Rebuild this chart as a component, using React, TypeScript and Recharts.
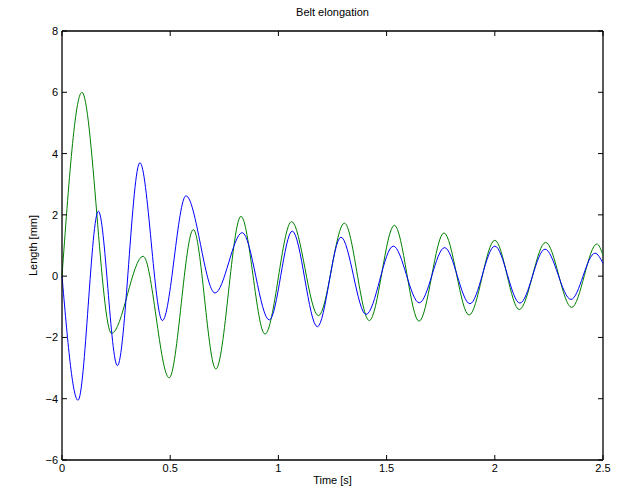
import { LineChart, Line, XAxis, YAxis, ReferenceLine, Label } from "recharts";

const timeGreen = [0, 0.092, 0.229, 0.375, 0.495, 0.607, 0.711, 0.827, 0.938, 1.061, 1.185, 1.305, 1.42, 1.536, 1.65, 1.765, 1.881, 2.0, 2.113, 2.235, 2.355, 2.472, 2.5];
const lengthGreen = [0, 6.0, -1.87, 0.65, -3.32, 1.52, -3.03, 1.95, -1.89, 1.78, -1.29, 1.73, -1.45, 1.66, -1.47, 1.41, -1.27, 1.17, -1.09, 1.1, -1.02, 1.05, 0.68];

const timeBlue = [0, 0.074, 0.168, 0.256, 0.36, 0.464, 0.573, 0.707, 0.833, 0.958, 1.064, 1.18, 1.289, 1.405, 1.531, 1.651, 1.768, 1.885, 2.0, 2.116, 2.232, 2.352, 2.463, 2.5];
const lengthBlue = [0, -4.05, 2.12, -2.92, 3.7, -1.45, 2.62, -0.55, 1.42, -1.43, 1.47, -1.65, 1.27, -1.25, 0.98, -0.87, 0.93, -0.9, 0.98, -0.88, 0.88, -0.76, 0.75, 0.42];

const xTicks = [0, 0.5, 1, 1.5, 2, 2.5];
const yTicks = [-6, -4, -2, 0, 2, 4, 6, 8];

const greenData = timeGreen.map((t, i) => ({ t, v: lengthGreen[i] }));
const blueData = timeBlue.map((t, i) => ({ t, v: lengthBlue[i] }));

// plot box in page pixels
const W = 624;
const H = 494;
const PLOT_LEFT = 62;
const PLOT_RIGHT = 603;
const PLOT_TOP = 31;
const PLOT_BOTTOM = 460;
const FONT = "'Liberation Sans', Arial, Helvetica, sans-serif";

const fmt = (v: number) => (v < 0 ? "\u2212" + Math.abs(v) : String(v));

function XTick({ x, payload }: any) {
  return (
    <g>
      <line x1={x} x2={x} y1={PLOT_BOTTOM} y2={PLOT_BOTTOM - 5} stroke="#000" />
      <line x1={x} x2={x} y1={PLOT_TOP} y2={PLOT_TOP + 5} stroke="#000" />
      <text x={x} y={PLOT_BOTTOM + 12} textAnchor="middle" fontSize={11} fontFamily={FONT} fill="#000">
        {fmt(payload.value)}
      </text>
    </g>
  );
}

function YTick({ y, payload }: any) {
  return (
    <g>
      <line x1={PLOT_LEFT} x2={PLOT_LEFT + 5} y1={y} y2={y} stroke="#000" />
      <line x1={PLOT_RIGHT} x2={PLOT_RIGHT - 5} y1={y} y2={y} stroke="#000" />
      <text x={PLOT_LEFT - 4} y={y + 4} textAnchor="end" fontSize={11} fontFamily={FONT} fill="#000">
        {fmt(payload.value)}
      </text>
    </g>
  );
}

export default function App() {
  return (
    <div style={{ position: "absolute", left: 0, top: 0, width: W, height: H, background: "#fff" }}>
      <svg width={W} height={20} style={{ position: "absolute", left: 0, top: 0 }}>
        <text x={(PLOT_LEFT + PLOT_RIGHT) / 2} y={16} textAnchor="middle" fontSize={11} fontFamily={FONT} fill="#000">
          Belt elongation
        </text>
      </svg>
      <LineChart
        width={W}
        height={H}
        margin={{ top: PLOT_TOP, right: W - PLOT_RIGHT, bottom: 4, left: 22 }}
      >
        <XAxis
          dataKey="t"
          type="number"
          domain={[0, 2.5]}
          ticks={xTicks}
          tick={<XTick />}
          tickLine={false}
          tickSize={0}
          height={H - PLOT_BOTTOM - 4}
          axisLine={{ stroke: "#000", strokeWidth: 1.3 }}
          allowDuplicatedCategory={false}
        >
          <Label value="Time [s]" position="insideBottom" offset={6} fontSize={11} fontFamily={FONT} fill="#000" />
        </XAxis>
        <YAxis
          type="number"
          domain={[-6, 8]}
          ticks={yTicks}
          tick={<YTick />}
          tickLine={false}
          tickSize={0}
          width={PLOT_LEFT - 22}
          axisLine={{ stroke: "#000", strokeWidth: 1.3 }}
        >
          <Label value="Length [mm]" angle={-90} position="insideLeft" offset={11} style={{ textAnchor: "middle" }} fontSize={11} fontFamily={FONT} fill="#000" />
        </YAxis>
        <ReferenceLine y={8} stroke="#000" strokeWidth={1.3} />
        <ReferenceLine x={2.5} stroke="#000" strokeWidth={1.3} />
        <Line data={greenData} dataKey="v" type="monotone" stroke="#008000" strokeWidth={1} dot={false} isAnimationActive={false} />
        <Line data={blueData} dataKey="v" type="monotone" stroke="#0000ff" strokeWidth={1} dot={false} isAnimationActive={false} />
      </LineChart>
    </div>
  );
}
